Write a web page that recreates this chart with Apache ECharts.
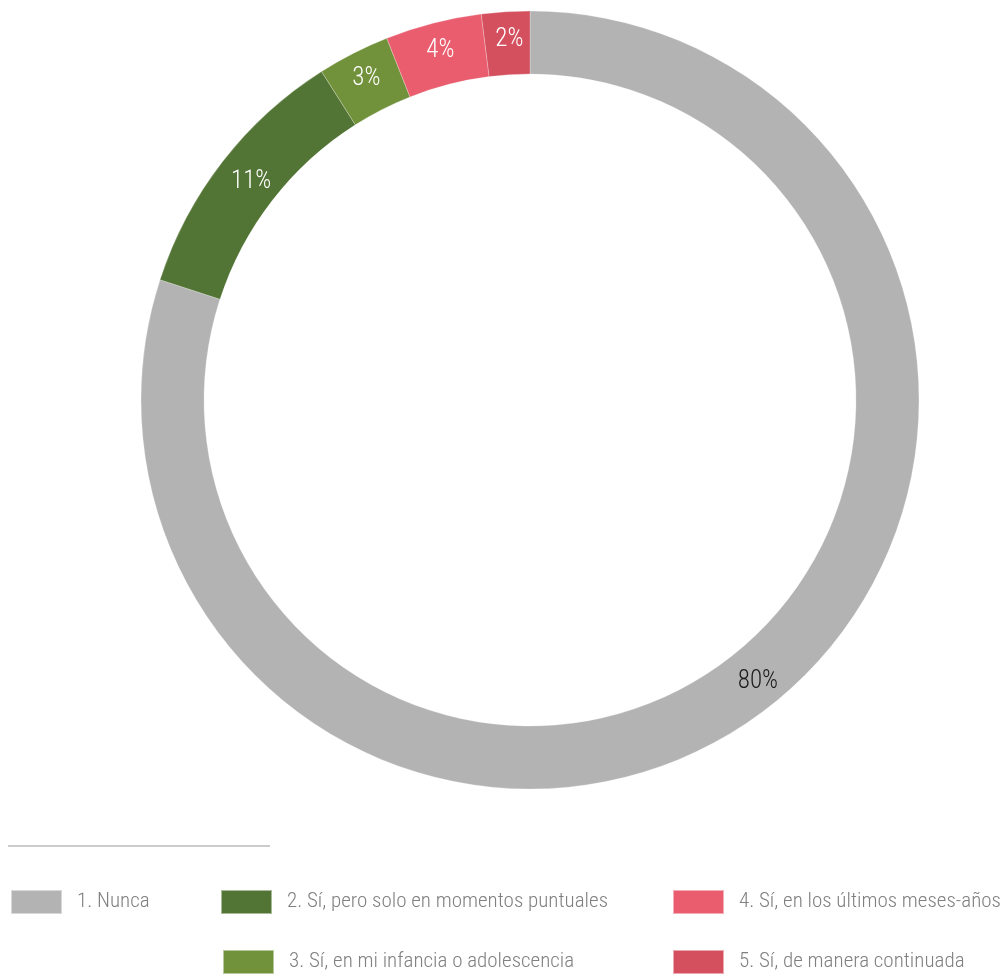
<!DOCTYPE html>
<html>
<head>
<meta charset="utf-8">
<script src="https://cdn.jsdelivr.net/npm/echarts@6/dist/echarts.min.js"></script>
<style>
html,body{margin:0;padding:0;background:#fff;}
#c{width:1005px;height:978px;}
</style>
</head>
<body>
<div id="c"></div>
<script>
const categories = [
  '1. Nunca',
  '2. Sí, pero solo en momentos puntuales',
  '3. Sí, en mi infancia o adolescencia',
  '4. Sí, en los últimos meses-años',
  '5. Sí, de manera continuada'
];
const values = [80, 11, 3, 4, 2];
const colors = ['#b3b3b3', '#527434', '#71913a', '#e95d6e', '#d4505f'];
const labelColors = ['#1a1a1a', '#ffffff', '#ffffff', '#ffffff', '#ffffff'];

const FONT = "'Roboto Condensed', Roboto, sans-serif";

const legendPos = [
  {left: 10, top: 889},
  {left: 220, top: 889},
  {left: 222, top: 949},
  {left: 672, top: 889},
  {left: 672, top: 949}
];
const labelOffsets = [[16, -10], [6, 3], [0, 0], [0, 0], [2, 0]];

const chart = echarts.init(document.getElementById('c'), null, {renderer: 'canvas'});
chart.setOption({
  animation: false,
  color: colors,
  graphic: [{
    type: 'line',
    shape: {x1: 8, y1: 846, x2: 270, y2: 846},
    style: {stroke: '#cccccc', lineWidth: 2}
  }],
  legend: categories.map((name, i) => ({
    data: [name],
    left: legendPos[i].left,
    top: legendPos[i].top,
    padding: 0,
    itemWidth: 51,
    itemHeight: 24,
    itemGap: 17,
    icon: 'rect',
    selectedMode: false,
    textStyle: {fontFamily: FONT, fontWeight: 300, fontSize: 21, color: '#808080', padding: [0, 0, 0, 10], width: 340, overflow: 'none'}
  })),
  series: [{
    type: 'pie',
    center: [530, 400],
    radius: [326, 389],
    startAngle: 90,
    clockwise: true,
    silent: true,
    avoidLabelOverlap: false,
    itemStyle: {borderColor: 'rgba(255,255,255,0.5)', borderWidth: 0.5},
    label: {
      show: true,
      position: 'inside',
      fontFamily: FONT,
      fontWeight: 300,
      fontSize: 25,
      formatter: p => Math.round(p.value) + '%'
    },
    labelLine: {show: false},
    data: categories.map((name, i) => ({
      name: name,
      value: values[i],
      itemStyle: {color: colors[i]},
      label: {color: labelColors[i], offset: labelOffsets[i]}
    }))
  }]
});
</script>
</body>
</html>
